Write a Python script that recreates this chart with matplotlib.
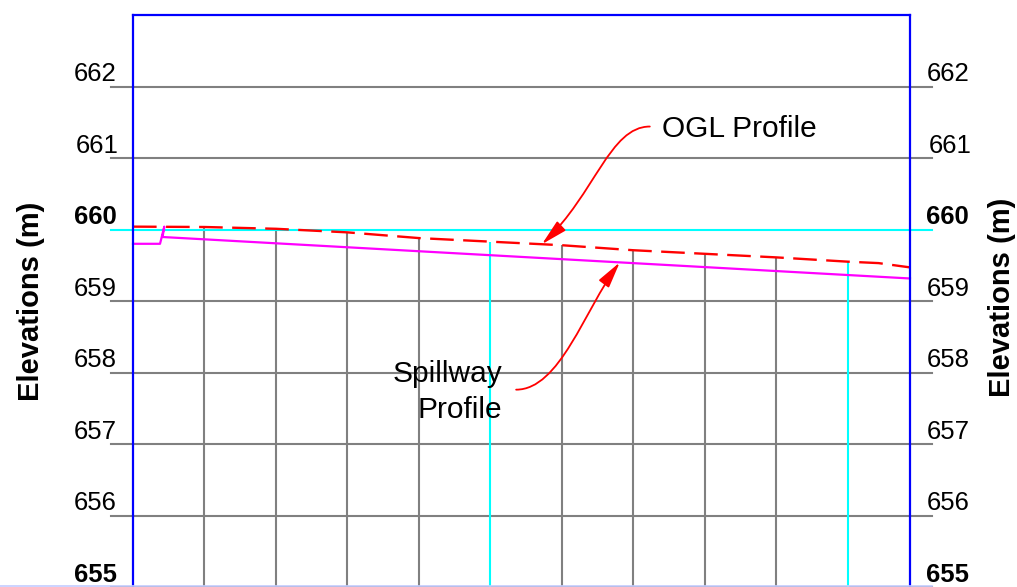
import numpy as np
import matplotlib
matplotlib.use("Agg")
import matplotlib.pyplot as plt
from matplotlib.patches import FancyArrowPatch
from matplotlib.path import Path
from matplotlib.lines import Line2D

plt.rcParams['font.family'] = ['Liberation Sans', 'DejaVu Sans']

# elevation grid (m)
elev_ticks = [655, 656, 657, 658, 659, 660, 661, 662]
bold_ticks = [655, 660]

# chainage grid lines (m); the cyan ones are every 50 m
chainage_lines = [10, 20, 30, 40, 50, 60, 70, 80, 90, 100]
cyan_chainages = [50, 100]

# OGL profile (dashed red)
ogl_ch = [0, 10, 20, 30, 40, 50, 60, 70, 80, 90, 100, 104.3, 108.7]
ogl_el = [660.04, 660.035, 660.01, 659.96, 659.88, 659.83, 659.78, 659.71,
          659.66, 659.61, 659.55, 659.53, 659.47]

# spillway profile (magenta)
spill_ch = [0, 3.78, 4.38, 4.13, 108.7]
spill_el = [659.80, 659.80, 660.04, 659.895, 659.315]

x_end = 108.7

fig = plt.figure(figsize=(10.17, 5.87), dpi=100)
ax = fig.add_axes([133 / 1017, 0, 777 / 1017, 1 - 15 / 587])
ax.set_xlim(0, x_end)
ax.set_ylim(655.0, 663.0)
ax.set_xticks([])
ax.set_yticks([])
for side, sp in ax.spines.items():
    sp.set_color('#0000ff')
    sp.set_linewidth(1.6)
    sp.set_zorder(5)
ax.spines['bottom'].set_visible(False)

# horizontal grid lines, running a bit past the frame
for e in elev_ticks:
    col = '#00ffff' if e == 660 else '#808080'
    z = 2.2 if e == 660 else 1
    ax.plot([-3.1, 111.8], [e, e], color=col, lw=1.5, zorder=z, clip_on=False)

# vertical lines up to the OGL
for c in chainage_lines:
    col = '#00ffff' if c in cyan_chainages else '#808080'
    z = 2.1 if c in cyan_chainages else 1.5
    top = np.interp(c, ogl_ch, ogl_el)
    ax.vlines(c, 654.0, top, color=col, lw=1.5, zorder=z)

ax.plot(spill_ch, spill_el, color='#ff00ff', lw=1.6, zorder=3, clip_on=False)
ax.plot(ogl_ch, ogl_el, color='#ff0000', lw=1.7, ls=(0, (10, 4)), zorder=3.5,
        clip_on=False)

# elevation labels both sides
for e in elev_ticks:
    w = 'bold' if e in bold_ticks else 'normal'
    dx = 0.35 if e == 661 else 0.0
    ax.text(-2.3 + dx, e + 0.075, str(e), ha='right', va='baseline',
            fontsize=18.5, fontweight=w, clip_on=False)
    ax.text(111.0 + dx, e + 0.075, str(e), ha='left', va='baseline',
            fontsize=18.5, fontweight=w, clip_on=False)

fig.text(31 / 1017, 1 - 301 / 587, 'Elevations (m)', rotation=90,
         ha='center', va='center', fontsize=21, fontweight='bold')
fig.text(1002 / 1017, 1 - 297 / 587, 'Elevations (m)', rotation=90,
         ha='center', va='center', fontsize=21, fontweight='bold')

# faint edge line at the bottom of the sheet
fig.add_artist(Line2D([0, 932 / 1017], [0.001, 0.001], color='#c4ccff', lw=1.2))

# callouts
ogl_tip = (57.2, np.interp(57.2, ogl_ch, ogl_el))
spill_tip = (68.1, np.interp(68.1, spill_ch[3:], spill_el[3:]))

ax.text(74.0, 661.30, 'OGL Profile', ha='left', va='baseline', fontsize=21.5)
ax.text(51.7, 657.874, 'Spillway', ha='right', va='baseline', fontsize=21.5)
ax.text(51.7, 657.37, 'Profile', ha='right', va='baseline', fontsize=21.5)

codes = [Path.MOVETO, Path.CURVE4, Path.CURVE4, Path.CURVE4]
ogl_path = Path([(72.3, 661.44), (66.7, 661.44), (64.6, 660.49), ogl_tip], codes)
spill_path = Path([(53.6, 657.76), (59.7, 657.76), (63.2, 658.88), spill_tip], codes)
for p in (ogl_path, spill_path):
    arr = FancyArrowPatch(path=p, arrowstyle='-|>,head_length=16,head_width=3.8',
                          mutation_scale=1, color='#ff0000', lw=1.3, zorder=6)
    ax.add_patch(arr)

fig.savefig('out.png', dpi=100)
